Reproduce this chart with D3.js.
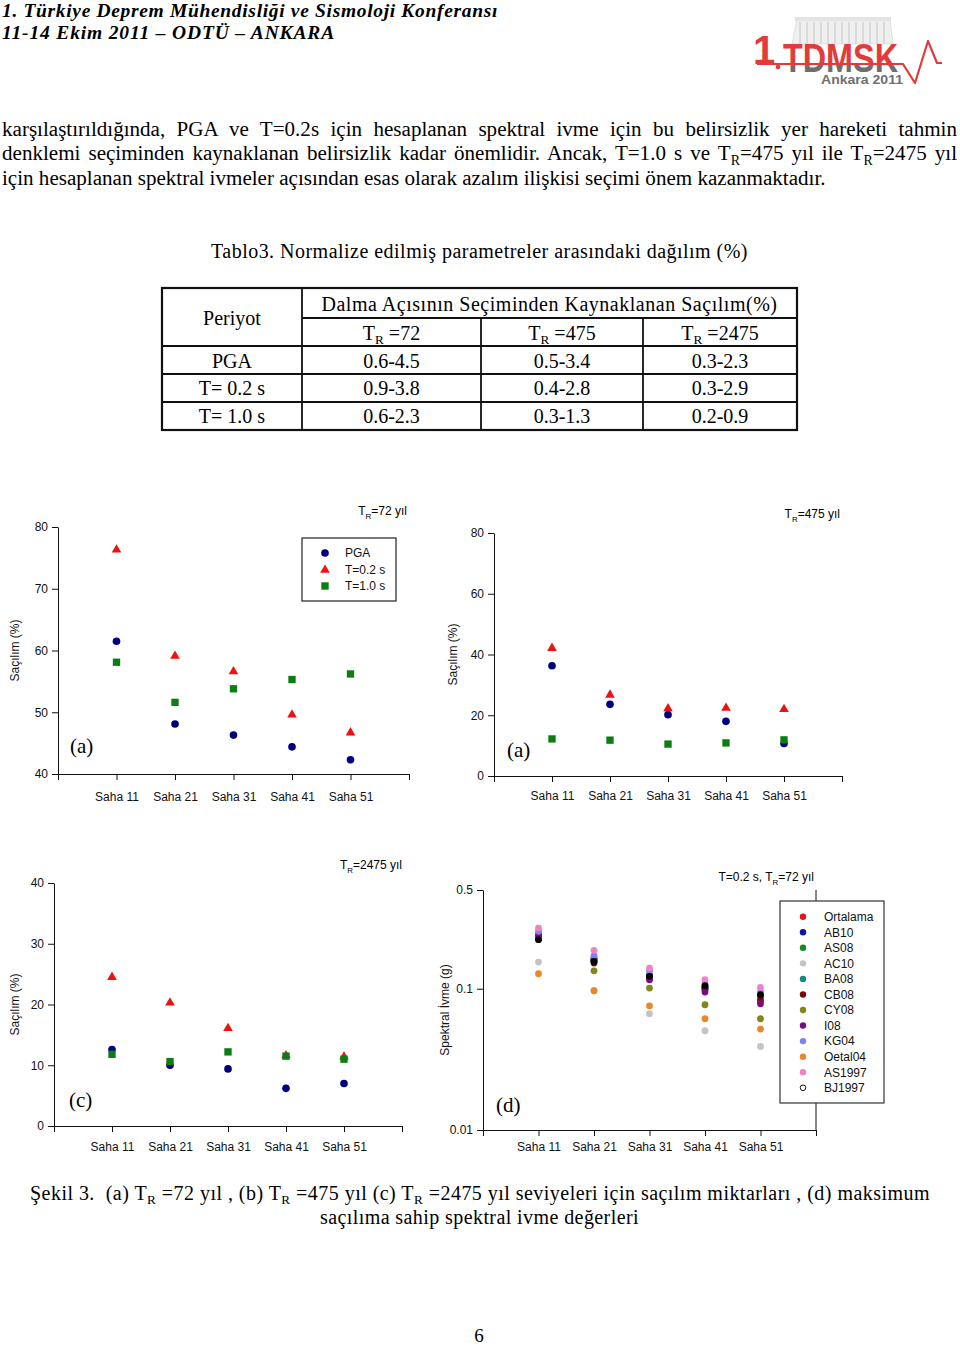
<!DOCTYPE html>
<html><head><meta charset="utf-8">
<script src="https://cdn.jsdelivr.net/npm/d3@7"></script>
<style>
html,body{margin:0;padding:0;background:#fff;}
svg{display:block;}
</style></head><body>
<svg id="page" width="960" height="1346"></svg>
<script>
// ---------------- data ----------------
const sites = ["Saha 11", "Saha 21", "Saha 31", "Saha 41", "Saha 51"];
const seriesLabels = ["PGA", "T=0.2 s", "T=1.0 s"];

// (a) TR = 72
const tr72PGA = [61.5, 48.1, 46.3, 44.4, 42.3];
const tr72T02 = [76.3, 59.1, 56.6, 49.6, 46.7];
const tr72T10 = [58.1, 51.6, 53.8, 55.3, 56.2];
// (b) TR = 475
const tr475PGA = [36.3, 23.6, 20.2, 18.0, 10.7];
const tr475T02 = [42.1, 26.7, 22.2, 22.4, 22.0];
const tr475T10 = [12.2, 11.8, 10.5, 10.9, 11.9];
// (c) TR = 2475
const tr2475PGA = [12.6, 10.0, 9.4, 6.2, 7.0];
const tr2475T02 = [24.5, 20.3, 16.1, 11.6, 11.4];
const tr2475T10 = [11.8, 10.6, 12.2, 11.5, 11.0];

const ticksA = [40, 50, 60, 70, 80];
const ticksB = [0, 20, 40, 60, 80];
const ticksC = [0, 10, 20, 30, 40];
const ticksD = [0.01, 0.1, 0.5];

// (d) spectral acceleration (g), T=0.2 s, TR=72
const gmpeNames = ["Ortalama", "AB10", "AS08", "AC10", "BA08", "CB08", "CY08", "I08", "KG04", "Oetal04", "AS1997", "BJ1997"];
const saOrtalama = [0.228, 0.158, 0.122, 0.101, 0.085];
const saAB10     = [0.235, 0.162, 0.125, 0.103, 0.088];
const saAS08     = [0.226, 0.155, 0.120, 0.100, 0.086];
const saAC10     = [0.1545, 0.097, 0.0665, 0.0504, 0.039];
const saBA08     = [0.230, 0.160, 0.123, 0.102, 0.087];
const saCB08     = [0.232, 0.152, 0.118, 0.098, 0.082];
const saCY08     = [0.224, 0.134, 0.1011, 0.077, 0.0613];
const saI08      = [0.242, 0.165, 0.1158, 0.0947, 0.0783];
const saKG04     = [0.255, 0.171, 0.134, 0.108, 0.095];
const saOetal04  = [0.1277, 0.0968, 0.0757, 0.0613, 0.0518];
const saAS1997   = [0.269, 0.187, 0.140, 0.1158, 0.1022];
const saBJ1997   = [0.2226, 0.156, 0.1224, 0.105, 0.0907];

// table 3
const tablePeriods = ["PGA", "T= 0.2 s", "T= 1.0 s"];
const tableReturnPeriods = ["72", "475", "2475"];
const tableTR72   = ["0.6-4.5", "0.9-3.8", "0.6-2.3"];
const tableTR475  = ["0.5-3.4", "0.4-2.8", "0.3-1.3"];
const tableTR2475 = ["0.3-2.3", "0.3-2.9", "0.2-0.9"];

// ---------------- styles ----------------
const SERIF = "'Liberation Serif','Times New Roman',serif";
const SANS = "'Liberation Sans',Arial,sans-serif";
const seriesColors = ["#00007f", "#ee1111", "#0b7d12"];
const gmpeColors = ["#e8131a", "#0b14a8", "#138a22", "#c3c3c3", "#138a80", "#7a0b0b", "#80861a", "#7b0a80", "#8080f0", "#f08528", "#f080c8", "#000000"];

const svg = d3.select("#page");

function richText(parent, x, y, parts, o = {}) {
  let size = o.size || 19.5;
  const t = parent.append("text")
    .attr("x", x).attr("y", y)
    .attr("font-family", o.family || SERIF)
    .attr("font-size", size)
    .attr("fill", o.fill || "#000")
    .style("white-space", "pre");
  if (o.weight) t.attr("font-weight", o.weight);
  if (o.italic) t.attr("font-style", "italic");
  if (o.anchor) t.attr("text-anchor", o.anchor);
  const shift = size * (o.subShift || 0.22);
  let down = false;
  parts.forEach(p => {
    const isSub = typeof p !== "string";
    const s = t.append("tspan").text(isSub ? p.sub : p);
    if (isSub) {
      s.attr("font-size", size * 0.66);
      if (!down) { s.attr("dy", shift); down = true; }
    } else if (down) { s.attr("dy", -shift); down = false; }
  });
  if (o.width) {
    const natural = t.node().getComputedTextLength();
    const str = parts.map(p => typeof p === "string" ? p : p.sub).join("");
    if (o.fitSize) {
      size = size * o.width / natural;
      t.attr("font-size", size);
    } else if (o.justify) {
      const n = (str.match(/ /g) || []).length;
      t.attr("word-spacing", (o.width - natural) / n);
    } else {
      t.attr("letter-spacing", (o.width - natural) / str.length);
    }
  }
  t.property("usedSize", size);
  return t;
}

// ---------------- header ----------------
richText(svg, 2, 17, ["1. Türkiye Deprem Mühendisliği ve Sismoloji Konferansı"], {size: 19.5, weight: "bold", italic: true, width: 496});
richText(svg, 2, 39, ["11-14 Ekim 2011 – ODTÜ – ANKARA"], {size: 19.5, weight: "bold", italic: true, width: 333});

// logo
(function logo() {
  const g = svg.append("g");
  const defs = svg.append("defs");
  defs.append("clipPath").attr("id", "clipTop").append("rect").attr("x", 740).attr("y", 0).attr("width", 220).attr("height", 64);
  defs.append("clipPath").attr("id", "clipBot").append("rect").attr("x", 740).attr("y", 64).attr("width", 220).attr("height", 8);
  // building
  g.append("path").attr("d", "M792,44 L797,20 L890,20 L893,44 Z").attr("fill", "#efefef").attr("stroke", "#e0e0e0");
  g.append("rect").attr("x", 795).attr("y", 17).attr("width", 96).attr("height", 4).attr("fill", "#e4e4e4");
  d3.range(800, 890, 7).forEach(cx => g.append("line").attr("x1", cx).attr("x2", cx).attr("y1", 22).attr("y2", 44).attr("stroke", "#dadada").attr("stroke-width", 2));
  // 1.
  g.append("text").attr("x", 753).attr("y", 64).attr("font-family", SANS).attr("font-weight", "bold").attr("font-size", 40).attr("fill", "#e23b3b").text("1");
  g.append("circle").attr("cx", 778).attr("cy", 67).attr("r", 2.3).attr("fill", "#e23b3b");
  // TDMSK
  g.append("text").attr("x", 783).attr("y", 72).attr("font-family", SANS).attr("font-weight", "bold").attr("font-size", 41)
    .attr("textLength", 115).attr("lengthAdjust", "spacingAndGlyphs").attr("fill", "#e23b3b").attr("clip-path", "url(#clipTop)").text("TDMSK");
  g.append("text").attr("x", 783).attr("y", 72).attr("font-family", SANS).attr("font-weight", "bold").attr("font-size", 41)
    .attr("textLength", 115).attr("lengthAdjust", "spacingAndGlyphs").attr("fill", "#6e6e6e").attr("clip-path", "url(#clipBot)").text("TDMSK");
  g.append("polyline").attr("points", "757,64 903,64 915,83 928,41 937,63 942,63")
    .attr("fill", "none").attr("stroke", "#e23b3b").attr("stroke-width", 2.2).attr("stroke-linejoin", "round");
  g.append("text").attr("x", 821).attr("y", 84).attr("font-family", SANS).attr("font-weight", "bold").attr("font-size", 13)
    .attr("textLength", 82).attr("lengthAdjust", "spacingAndGlyphs").attr("fill", "#6f6f6f").text("Ankara 2011");
})();

// ---------------- paragraph ----------------
const l3 = richText(svg, 2, 185, ["için hesaplanan spektral ivmeler açısından esas olarak azalım ilişkisi seçimi önem kazanmaktadır."], {size: 19.5, width: 824, fitSize: true});
const pSize = l3.property("usedSize");
richText(svg, 2, 136, ["karşılaştırıldığında, PGA ve T=0.2s için hesaplanan spektral ivme için bu belirsizlik yer hareketi tahmin"], {size: pSize, width: 955, justify: true});
richText(svg, 2, 160, ["denklemi seçiminden kaynaklanan belirsizlik kadar önemlidir. Ancak, T=1.0 s ve T", {sub: "R"}, "=475 yıl ile T", {sub: "R"}, "=2475 yıl"], {size: pSize, width: 955, justify: true});

// ---------------- table ----------------
richText(svg, 211, 258, ["Tablo3. Normalize edilmiş parametreler arasındaki dağılım (%)"], {size: 20, width: 537});
(function table() {
  const L = 162, R = 797, Tp = 288, B = 430, c1 = 302, c2 = 481, c3 = 643, h1 = 318, h2 = 346, r1 = 374, r2 = 402;
  const g = svg.append("g").attr("stroke", "#111").attr("fill", "none");
  g.append("rect").attr("x", L).attr("y", Tp).attr("width", R - L).attr("height", B - Tp).attr("stroke-width", 2.2);
  [[c1, R, h1], [L, R, h2], [L, R, r1], [L, R, r2]].forEach(([a, b, yy]) =>
    g.append("line").attr("x1", a).attr("x2", b).attr("y1", yy).attr("y2", yy).attr("stroke-width", 1.8));
  g.append("line").attr("x1", c1).attr("x2", c1).attr("y1", Tp).attr("y2", B).attr("stroke-width", 1.8);
  [c2, c3].forEach(cx => g.append("line").attr("x1", cx).attr("x2", cx).attr("y1", h1).attr("y2", B).attr("stroke-width", 1.8));
  const colC = [(c1 + c2) / 2, (c2 + c3) / 2, (c3 + R) / 2];
  richText(svg, (L + c1) / 2, 325, ["Periyot"], {size: 20, anchor: "middle"});
  richText(svg, (c1 + R) / 2, 311, ["Dalma Açısının Seçiminden Kaynaklanan Saçılım(%)"], {size: 20, anchor: "middle", width: 456});
  tableReturnPeriods.forEach((rp, i) => richText(svg, colC[i], 340, ["T", {sub: "R"}, " =" + rp], {size: 20, anchor: "middle"}));
  const rowY = [368, 395, 423];
  const cols = [tableTR72, tableTR475, tableTR2475];
  tablePeriods.forEach((p, r) => {
    richText(svg, (L + c1) / 2, rowY[r], [p], {size: 20, anchor: "middle"});
    cols.forEach((col, c) => richText(svg, colC[c], rowY[r], [col[r]], {size: 20, anchor: "middle"}));
  });
})();

// ---------------- scatter panels ----------------
function styleAxis(sel) {
  sel.attr("font-family", SANS).attr("font-size", 12);
  sel.selectAll("path,line").attr("stroke", "#111");
  sel.selectAll("text").attr("fill", "#111");
}

function drawAxes(cfg, x, y, fmt) {
  const g = svg.append("g");
  g.append("g").attr("transform", `translate(0,${cfg.yb})`)
    .call(d3.axisBottom(x).tickValues([0, 1, 2, 3, 4, 5, 6]).tickSize(6).tickSizeOuter(0).tickPadding(cfg.xpad)
      .tickFormat(d => (d >= 1 && d <= 5) ? sites[d - 1] : ""))
    .call(styleAxis);
  g.append("g").attr("transform", `translate(${cfg.x0},0)`)
    .call(d3.axisLeft(y).tickValues(cfg.ticks).tickSize(6).tickSizeOuter(0).tickPadding(4).tickFormat(fmt))
    .call(styleAxis);
  // y label
  svg.append("text").attr("transform", `translate(${cfg.ylabX},${(cfg.yb + cfg.yt) / 2}) rotate(-90)`)
    .attr("text-anchor", "middle").attr("dominant-baseline", "central")
    .attr("font-family", SANS).attr("font-size", 12).attr("fill", "#111").text(cfg.ylab);
  // title
  richText(svg, cfg.titleX, cfg.titleY, cfg.title, {family: SANS, size: 12, anchor: "end", subShift: 0.3});
  // panel letter
  richText(svg, cfg.letterX, cfg.letterY, [cfg.letter], {size: 21});
}

const markerShapes = [d3.symbolCircle, d3.symbolTriangle, d3.symbolSquare];
const markerSizes = [46, 40, 54];

const panels = [
  {x0: 58, x1: 409, yb: 774, yt: 527, domain: [40, 80], ticks: ticksA, xpad: 12,
   series: [tr72PGA, tr72T02, tr72T10], title: ["T", {sub: "R"}, "=72 yıl"], titleX: 407, titleY: 515,
   letter: "(a)", letterX: 70, letterY: 753, ylabX: 15, ylab: "Saçılım (%)", legend: true},
  {x0: 494, x1: 842, yb: 776, yt: 533, domain: [0, 80], ticks: ticksB, xpad: 9,
   series: [tr475PGA, tr475T02, tr475T10], title: ["T", {sub: "R"}, "=475 yıl"], titleX: 840, titleY: 518,
   letter: "(a)", letterX: 507, letterY: 757, ylabX: 453, ylab: "Saçılım (%)"},
  {x0: 54, x1: 402, yb: 1126, yt: 883, domain: [0, 40], ticks: ticksC, xpad: 10,
   series: [tr2475PGA, tr2475T02, tr2475T10], title: ["T", {sub: "R"}, "=2475 yıl"], titleX: 402, titleY: 869,
   letter: "(c)", letterX: 69, letterY: 1107, ylabX: 15, ylab: "Saçılım (%)"}
];

panels.forEach(cfg => {
  const x = d3.scaleLinear().domain([0, 6]).range([cfg.x0, cfg.x1]);
  const y = d3.scaleLinear().domain(cfg.domain).range([cfg.yb, cfg.yt]);
  drawAxes(cfg, x, y, d3.format("d"));
  cfg.series.forEach((vals, si) => {
    svg.append("g").selectAll("path").data(vals).join("path")
      .attr("transform", (v, i) => `translate(${x(i + 1)},${y(v)})`)
      .attr("d", d3.symbol(markerShapes[si], markerSizes[si]))
      .attr("fill", seriesColors[si]);
  });
  if (cfg.legend) {
    const lg = svg.append("g");
    lg.append("rect").attr("x", 302).attr("y", 538).attr("width", 94).attr("height", 63)
      .attr("fill", "#fff").attr("stroke", "#222").attr("stroke-width", 1.2);
    const rows = [553, 570, 586];
    seriesLabels.forEach((lab, si) => {
      lg.append("path").attr("transform", `translate(325,${rows[si]})`)
        .attr("d", d3.symbol(markerShapes[si], markerSizes[si])).attr("fill", seriesColors[si]);
      lg.append("text").attr("x", 345).attr("y", rows[si] + 4.3).attr("font-family", SANS).attr("font-size", 12)
        .attr("fill", "#111").text(lab);
    });
  }
});

// ---------------- panel (d) ----------------
(function panelD() {
  const cfg = {x0: 483, x1: 816, yb: 1130, yt: 890, ticks: ticksD, xpad: 6,
    title: ["T=0.2 s, T", {sub: "R"}, "=72 yıl"], titleX: 814, titleY: 881,
    letter: "(d)", letterX: 496, letterY: 1112, ylabX: 445, ylab: "Spektral İvme (g)"};
  const x = d3.scaleLinear().domain([0, 6]).range([cfg.x0, cfg.x1]);
  const y = d3.scaleLog().domain([0.01, 0.5]).range([cfg.yb, cfg.yt]);
  drawAxes(cfg, x, y, d => String(d));
  svg.append("line").attr("x1", x(6)).attr("x2", x(6)).attr("y1", y(0.5)).attr("y2", y(0.01))
    .attr("stroke", "#111");
  const sets = [saOrtalama, saAB10, saAS08, saAC10, saBA08, saCB08, saCY08, saI08, saKG04, saOetal04, saAS1997, saBJ1997];
  sets.forEach((vals, k) => {
    svg.append("g").selectAll("circle").data(vals).join("circle")
      .attr("cx", (v, i) => x(i + 1)).attr("cy", v => y(v)).attr("r", 3.4)
      .attr("fill", gmpeColors[k]);
  });
  const lg = svg.append("g");
  lg.append("rect").attr("x", 780).attr("y", 901).attr("width", 104).attr("height", 202)
    .attr("fill", "#fff").attr("stroke", "#333").attr("stroke-width", 1.2);
  gmpeNames.forEach((name, k) => {
    const ry = 916.7 + k * 15.55;
    const last = k === gmpeNames.length - 1;
    lg.append("circle").attr("cx", 803).attr("cy", ry).attr("r", last ? 2.8 : 3.2)
      .attr("fill", last ? "#fff" : gmpeColors[k]).attr("stroke", last ? "#111" : "none").attr("stroke-width", 1);
    lg.append("text").attr("x", 824).attr("y", ry + 4.3).attr("font-family", SANS).attr("font-size", 12)
      .attr("fill", "#111").text(name);
  });
})();

// ---------------- caption ----------------
richText(svg, 30, 1200, ["Şekil 3.  (a) T", {sub: "R"}, " =72 yıl , (b) T", {sub: "R"}, " =475 yıl (c) T", {sub: "R"}, " =2475 yıl seviyeleri için saçılım miktarları , (d) maksimum"], {size: 20, width: 900});
richText(svg, 320, 1224, ["saçılıma sahip spektral ivme değerleri"], {size: 20, width: 319});
richText(svg, 479, 1342, ["6"], {size: 19, anchor: "middle"});
</script>
</body></html>
